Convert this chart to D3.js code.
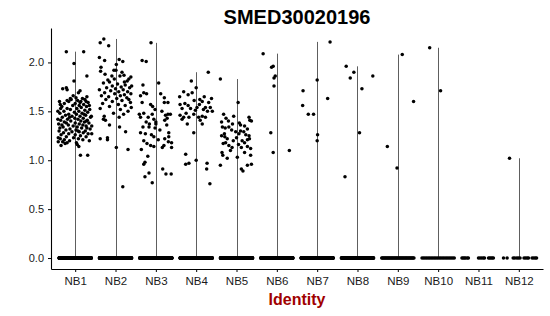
<!DOCTYPE html>
<html>
<head>
<meta charset="utf-8">
<title>SMED30020196</title>
<script src="https://d3js.org/d3.v7.min.js"></script>
<style>
  body { margin: 0; background: #fff; }
  text { font-family: "Liberation Sans", Arial, sans-serif; }
</style>
</head>
<body>
<div id="chart"></div>
<script>
// ******* Data *******
const title = "SMED30020196";
const xTitle = "Identity";
const groups = ["NB1", "NB2", "NB3", "NB4", "NB5", "NB6", "NB7", "NB8", "NB9", "NB10", "NB11", "NB12"];
const yTicks = [0, 0.5, 1.0, 1.5, 2.0];

// number of cells with zero expression per group
const zeroCounts = [320, 320, 320, 320, 320, 240, 220, 180, 40, 22, 0, 0];
// sparse zero cells read one by one (jitter, in category units)
const zeroJitterNB11 = [-0.41, -0.38, -0.35, -0.32, -0.28, -0.25, 0.0, 0.04, 0.08, 0.12, 0.15, 0.25, 0.28, 0.31, 0.34, 0.37];
const zeroJitterNB12 = [-0.38, -0.29, -0.14, -0.1, -0.05, -0.01, 0.03, 0.13, 0.17, 0.21, 0.24, 0.33, 0.37, 0.41, 0.44];

// expressing cells: [value, jitter]
const nb1 = [[2.11,-0.22],[2.11,0.21],[1.99,-0.03],[1.86,0.29],[1.81,-0.03],[1.73,-0.31],[1.74,-0.22],[1.72,-0.2],[1.71,0.12],[1.69,0.08],[1.65,0.29],[1.6,-0.39],[1.57,-0.37],[1.16,0.05],[1.14,0.09],[1.15,-0.35],[1.05,0.13],[1.05,0.31],
  [1.66,-0.05],[1.64,0.02],[1.63,0.18],[1.62,0.24],[1.62,-0.1],[1.61,0.06],[1.6,0.14],[1.6,-0.16],[1.59,0.32],[1.58,0.0],[1.58,-0.27],[1.57,0.21],[1.56,0.1],[1.56,-0.06],[1.55,-0.33],[1.55,0.28],[1.54,0.15],[1.53,-0.2],[1.53,0.04],[1.52,0.36],[1.52,-0.12],[1.51,0.24],[1.5,-0.28],[1.5,0.09],[1.49,-0.02],[1.49,0.31],[1.48,-0.38],[1.48,0.17],[1.47,-0.16],[1.47,0.03],[1.46,0.26],[1.46,-0.24],[1.45,0.12],[1.45,-0.08],[1.44,0.38],[1.44,-0.32],[1.43,0.2],[1.43,-0.01],[1.42,-0.19],[1.42,0.07],[1.41,0.3],[1.41,-0.36],[1.4,0.14],[1.4,-0.11],[1.39,0.23],[1.39,-0.27],[1.38,0.0],[1.38,0.34],[1.37,-0.41],[1.37,0.1],[1.36,-0.17],[1.36,0.19],[1.35,-0.05],[1.35,0.27],[1.34,-0.3],[1.34,0.05],[1.33,-0.38],[1.33,0.16],[1.32,-0.13],[1.32,0.37],[1.31,0.02],[1.31,-0.23],[1.3,0.25],[1.3,-0.4],[1.29,0.1],[1.29,-0.08],[1.28,-0.29],[1.28,0.2],[1.27,0.32],[1.27,-0.16],[1.26,0.0],[1.26,-0.35],[1.25,0.13],[1.24,-0.22],[1.24,0.27],[1.23,-0.04],[1.22,-0.37],[1.22,0.08],[1.21,0.19],[1.21,-0.27],[1.2,-0.14],[1.2,0.35],[1.19,-0.42],[1.19,-0.31],[1.18,-0.2],[1.18,0.03],[1.17,-0.25],[1.23,-0.42],[1.35,0.41],[1.45,0.4],[1.5,-0.43],[1.42,-0.43],[1.27,0.41],[1.53,-0.36],[1.59,0.12],[1.61,-0.2],[1.63,-0.12],[1.4,0.28],[1.33,0.29],[1.47,0.22],[1.56,0.35],[1.6,0.27],[1.38,-0.22],[1.44,-0.14],[1.3,0.07],[1.36,-0.33]];
const nb2 = [[2.24,-0.29],[2.2,-0.38],[2.17,-0.17],[2.05,-0.4],[2.02,-0.27],[2.03,0.09],[2.01,0.18],[1.98,0.02],[1.95,-0.36],[1.91,-0.37],[1.92,-0.04],[1.92,0.01],[1.86,-0.09],[1.86,0.11],[1.87,0.21],[1.83,0.33],[1.81,0.29],[1.82,-0.19],[1.8,-0.15],
  [1.79,-0.3],[1.78,0.05],[1.77,0.24],[1.76,-0.08],[1.75,0.14],[1.74,-0.22],[1.74,0.35],[1.73,0.0],[1.72,-0.4],[1.72,0.19],[1.71,-0.12],[1.7,0.08],[1.7,0.3],[1.69,-0.27],[1.68,-0.02],[1.67,0.22],[1.66,-0.35],[1.66,0.12],[1.65,-0.17],[1.64,0.28],[1.63,0.03],[1.62,-0.24],[1.61,0.16],[1.6,-0.08],[1.59,0.37],[1.58,-0.32],[1.57,0.07],[1.56,0.24],[1.55,-0.15],[1.53,-0.38],[1.52,0.12],[1.5,0.31],[1.48,-0.05],[1.47,0.2],[1.45,-0.28],[1.44,0.09],[1.42,-0.3],[1.41,-0.25],[1.36,-0.15],[1.34,0.1],[1.29,0.25],[1.22,-0.38],[1.23,-0.2],[1.21,-0.2],[1.13,0.02],[1.11,0.31],[0.73,0.18],[1.85,0.38],[1.88,-0.26],[1.9,0.16],[1.76,0.4],[1.68,0.38],[1.62,0.33],[1.54,0.39],[1.83,-0.03],[1.8,0.22]];
const nb3 = [[2.2,-0.12],[2.02,-0.34],[2.01,-0.24],[1.79,0.07],[1.77,-0.32],[1.68,0.12],[1.64,0.21],[1.59,0.3],[1.59,0.21],[1.66,-0.38],[1.69,-0.3],[1.68,-0.23],[1.59,-0.34],[1.57,-0.13],[1.55,-0.08],
  [1.47,-0.41],[1.48,-0.3],[1.44,-0.38],[1.44,-0.19],[1.47,-0.09],[1.42,-0.05],[1.46,0.24],[1.47,0.3],[1.47,0.36],[1.43,0.28],[1.41,0.22],[1.37,0.0],[1.39,0.0],[1.39,-0.24],[1.37,-0.16],[1.34,-0.32],
  [1.34,-0.17],[1.27,-0.26],[1.28,-0.38],[1.24,-0.05],[1.26,-0.11],[1.28,0.32],[1.24,0.32],[1.19,0.31],[1.18,0.39],[1.22,0.22],[1.2,-0.3],[1.17,-0.22],[1.15,-0.13],[1.14,-0.05],[1.21,0.06],[1.15,0.2],[1.13,0.16],[1.13,0.39],
  [1.04,-0.2],[0.96,-0.3],[0.98,-0.27],[0.91,0.17],[0.87,-0.17],[0.83,-0.27],[0.86,0.25],[0.86,0.38],[0.77,-0.09],[1.52,-0.02],[1.31,0.1],[1.33,-0.02],[1.5,0.15],[1.36,0.27],[1.11,-0.36]];
const nb4 = [[1.9,0.3],[1.81,-0.12],[1.74,0.0],[1.7,-0.31],[1.65,-0.41],[1.67,-0.2],[1.69,-0.1],[1.62,0.09],[1.6,0.15],[1.59,0.31],[1.54,0.23],[1.54,0.35],[1.58,-0.28],[1.56,-0.2],[1.53,-0.35],[1.53,-0.14],[1.54,0.02],[1.51,-0.02],
  [1.44,-0.31],[1.42,-0.35],[1.44,-0.18],[1.47,-0.06],[1.44,0.06],[1.45,0.15],[1.44,0.23],[1.37,-0.22],[1.37,0.15],[1.28,-0.06],[1.06,-0.26],[0.97,-0.18],[0.96,-0.26],[1.0,0.0],[0.97,0.27],[0.91,0.26],[0.76,0.34],
  [1.65,0.2],[1.61,-0.05],[1.57,0.08],[1.5,0.28],[1.48,-0.25],[1.5,0.4],[1.63,0.38],[1.57,-0.4],[1.41,0.1],[1.46,-0.4],[1.52,0.18]];
const nb5 = [[1.83,-0.4],[1.59,0.04],[1.47,-0.32],[1.43,-0.26],[1.45,-0.07],[1.44,0.31],[1.4,0.37],[1.41,0.33],[1.39,-0.37],[1.34,-0.35],[1.34,-0.19],[1.38,0.07],[1.36,0.1],
  [1.25,-0.37],[1.24,-0.29],[1.22,-0.23],[1.29,-0.02],[1.27,0.06],[1.29,0.18],[1.32,0.27],[1.25,0.31],[1.22,0.32],[1.18,-0.27],[1.15,-0.19],[1.13,-0.11],[1.2,0.14],[1.18,0.2],[1.13,0.12],[1.14,0.27],[1.12,0.35],
  [1.05,-0.34],[1.02,-0.23],[1.08,-0.36],[1.05,0.35],[1.03,0.02],[0.95,-0.4],[0.91,0.12],[0.89,0.16],[0.95,0.27],[0.96,0.37],
  [1.31,-0.12],[1.3,0.1],[1.27,-0.3],[1.23,0.0],[1.2,-0.08],[1.35,0.2],[1.16,0.05],[1.1,-0.15],[1.4,-0.2],[1.26,0.23],[1.33,-0.28],[1.21,0.27],[1.37,-0.1],[1.08,0.2],[1.17,-0.33]];
const nb6 = [[2.09,-0.34],[1.95,-0.13],[1.96,-0.09],[1.86,-0.04],[1.84,-0.07],[1.76,-0.07],[1.28,-0.15],[1.08,-0.09],[1.1,0.31]];
const nb7 = [[2.21,0.32],[1.82,0.0],[1.71,-0.35],[1.63,0.26],[1.56,-0.36],[1.47,-0.22],[1.47,-0.09],[1.26,0.01],[1.2,0.0]];
const nb8 = [[1.96,-0.28],[1.9,-0.09],[1.84,-0.18],[1.86,0.38],[1.73,0.11],[1.28,0.05],[0.83,-0.31]];
const nb9 = [[2.08,0.11],[1.6,0.39],[1.14,-0.26],[0.92,-0.02]];
const nb10 = [[2.15,-0.21],[1.71,0.06]];
const nb11 = [];
const nb12 = [[1.02,-0.23]];

const expressed = [nb1, nb2, nb3, nb4, nb5, nb6, nb7, nb8, nb9, nb10, nb11, nb12];

// ******* Build point table *******
var points = [];
groups.forEach(function(g, i) {
  expressed[i].forEach(function(p) { points.push({ g: i + 1, v: p[0], j: p[1] }); });
  var n = zeroCounts[i];
  for (var k = 0; k < n; k++) {
    points.push({ g: i + 1, v: 0, j: n > 1 ? -0.4 + 0.8 * k / (n - 1) : 0 });
  }
});
zeroJitterNB11.forEach(function(j) { points.push({ g: 11, v: 0, j: j }); });
zeroJitterNB12.forEach(function(j) { points.push({ g: 12, v: 0, j: j }); });

// ******* Layout *******
const width = 550, height = 316;
const margin = { top: 28, right: 7, bottom: 47, left: 51 };

var svg = d3.select("#chart").append("svg")
  .attr("width", width)
  .attr("height", height);

var x = d3.scaleLinear()
  .domain([0.4, groups.length + 0.6])
  .range([margin.left, width - margin.right]);

var vMax = d3.max(points, function(d) { return d.v; });
var pad = vMax * 0.05;
var y = d3.scaleLinear()
  .domain([-pad, vMax + pad])
  .range([height - margin.bottom, margin.top]);

// violins collapse to thin lines: draw 0..max per group
var maxes = expressed.map(function(arr, i) {
  return { g: i + 1, m: arr.length ? d3.max(arr, function(p) { return p[0]; }) : 0 };
}).filter(function(d) { return d.m > 0; });

svg.append("g").selectAll("line")
  .data(maxes)
  .enter().append("line")
  .attr("x1", function(d) { return Math.round(x(d.g)) + 0.5; })
  .attr("x2", function(d) { return Math.round(x(d.g)) + 0.5; })
  .attr("y1", y(0))
  .attr("y2", function(d) { return y(d.m); })
  .attr("stroke", "#5e5e5e")
  .attr("stroke-width", 1);

// jittered cells
svg.append("g").selectAll("circle")
  .data(points)
  .enter().append("circle")
  .attr("cx", function(d) { return x(d.g + d.j); })
  .attr("cy", function(d) { return y(d.v); })
  .attr("r", 1.75)
  .attr("fill", "#000");

// ******* Axes *******
var yAxis = svg.append("g")
  .attr("transform", `translate(${margin.left},0)`)
  .call(d3.axisLeft(y).tickValues(yTicks).tickFormat(d3.format(".1f")).tickSize(3).tickSizeOuter(0).tickPadding(4));

var xAxis = svg.append("g")
  .attr("transform", `translate(0,${height - margin.bottom})`)
  .call(d3.axisBottom(x).tickValues(d3.range(1, groups.length + 1))
    .tickFormat(function(d) { return groups[d - 1]; }).tickSize(3).tickSizeOuter(0).tickPadding(5));

[yAxis, xAxis].forEach(function(ax) {
  ax.select(".domain").attr("stroke", "#000").attr("stroke-width", 1.1);
  ax.selectAll(".tick line").attr("stroke", "#000");
  ax.selectAll(".tick text").attr("fill", "#1a1a1a")
    .style("font-family", "'Liberation Sans', Arial, sans-serif")
    .style("font-size", "11.5px");
});
yAxis.selectAll(".tick text").style("font-size", "11px");

// ******* Titles *******
var cx = (margin.left + width - margin.right) / 2;
svg.append("text")
  .attr("x", cx)
  .attr("y", 23.5)
  .attr("text-anchor", "middle")
  .style("font-size", "20px")
  .style("font-weight", "bold")
  .text(title);

svg.append("text")
  .attr("x", cx)
  .attr("y", 305)
  .attr("text-anchor", "middle")
  .style("font-size", "16px")
  .style("font-weight", "bold")
  .attr("fill", "#a00000")
  .text(xTitle);
</script>
</body>
</html>
